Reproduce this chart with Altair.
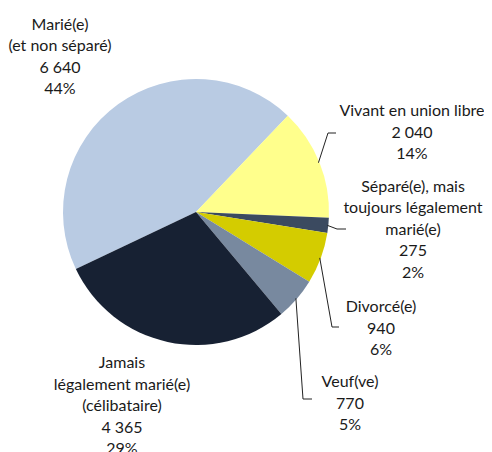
import altair as alt
import pandas as pd
import numpy as np

# ---- data ----
categories = [
    "Marié(e)\n(et non séparé)",
    "Vivant en union libre",
    "Séparé(e), mais\ntoujours légalement\nmarié(e)",
    "Divorcé(e)",
    "Veuf(ve)",
    "Jamais\nlégalement marié(e)\n(célibataire)",
]
values = [6640, 2040, 275, 940, 770, 4365]
value_labels = ["6 640", "2 040", "275", "940", "770", "4 365"]
pct_labels = ["44%", "14%", "2%", "6%", "5%", "29%"]

# ---- styles / layout ----
colors = ["#B9CBE3", "#FFFF8C", "#3B4A60", "#D4CC00", "#78899F", "#172133"]
CX, CY, R = 188, 204, 133
START = np.deg2rad(244.6)
W, H = 476, 444

# label anchors (center x, first-line baseline y)
label_pos = [(52, 21.5), (404, 108), (405, 183.5), (373, 304), (342, 379), (114, 360)]
# leader lines: elbow and end points (None = no leader)
leaders = [None, [(320, 125), (328, 125)], [(329, 221), (338, 221)],
           [(324, 319), (331, 319)], [(295, 391), (304, 391)], None]

df = pd.DataFrame({"cat": categories, "value": values, "idx": range(len(values))})

total = float(sum(values))
cum = np.cumsum([0] + values)
rows = []
for i, ld in enumerate(leaders):
    if ld is None:
        continue
    mid = START + 2 * np.pi * (cum[i] + values[i] / 2) / total
    sx = CX + (R - 1) * np.sin(mid)
    sy = CY - (R - 1) * np.cos(mid)
    pts = [(sx, sy)] + ld
    for k, (px, py) in enumerate(pts):
        rows.append({"cat": categories[i], "step": k, "px": px, "py": py})
lines_df = pd.DataFrame(rows)

text_df = pd.DataFrame({
    "label": [f"{c}\n{v}\n{p}" for c, v, p in zip(categories, value_labels, pct_labels)],
    "px": [p[0] for p in label_pos],
    "py": [p[1] for p in label_pos],
})

pie = alt.Chart(df).mark_arc(outerRadius=R).encode(
    theta=alt.Theta("value:Q", stack=True, scale=alt.Scale(range=[START, START + 2 * np.pi])),
    color=alt.Color("cat:N", scale=alt.Scale(domain=categories, range=colors), legend=None),
    order=alt.Order("idx:Q"),
    x=alt.value(CX),
    y=alt.value(CY),
)

lines = alt.Chart(lines_df).mark_line(color="#222222", strokeWidth=1).encode(
    x=alt.X("px:Q", scale=None, axis=None),
    y=alt.Y("py:Q", scale=None, axis=None),
    detail="cat:N",
    order="step:Q",
)

text = alt.Chart(text_df).mark_text(
    align="center", baseline="alphabetic", lineBreak="\n", lineHeight=21.5,
    font="Lato", fontSize=16, color="#1a1a1a",
).encode(
    x=alt.X("px:Q", scale=None, axis=None),
    y=alt.Y("py:Q", scale=None, axis=None),
    text="label:N",
)

chart = alt.layer(pie, lines, text).properties(
    width=W, height=H, autosize="none", padding=0
).configure_view(stroke=None)

chart.save("out.html", embed_options={"renderer": "svg", "actions": False})
